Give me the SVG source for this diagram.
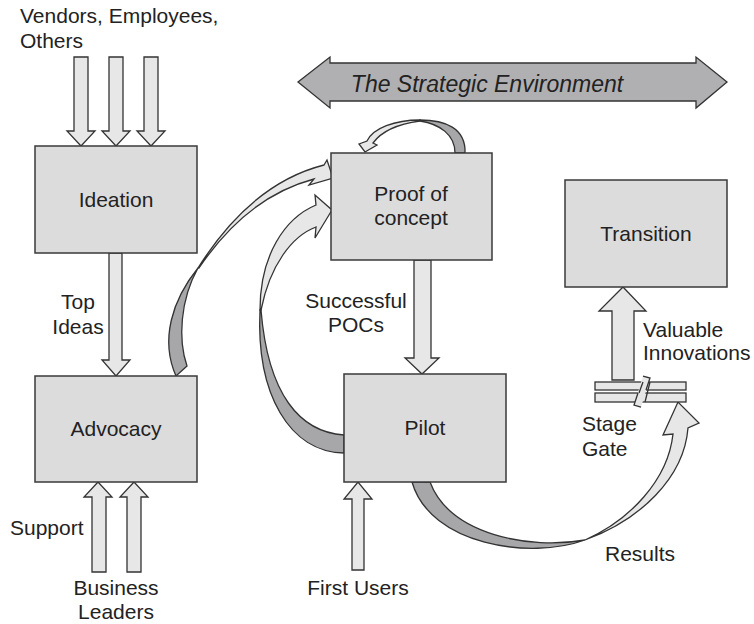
<svg xmlns="http://www.w3.org/2000/svg" width="754" height="624" viewBox="0 0 754 624">
<style>
.box{fill:#dcdcdd;stroke:#3a3a3a;stroke-width:1.5}
.arr{fill:#e7e7e8;stroke:#333;stroke-width:1.3;stroke-linejoin:miter}
.dark{fill:#a7a7a9;stroke:#333;stroke-width:1.3}
.env{fill:#b0b0b2;stroke:#333;stroke-width:1.3}
text{font-family:"Liberation Sans",Arial,sans-serif;font-size:21px;fill:#222}
.c{text-anchor:middle}
</style>
<rect width="754" height="624" fill="#fff"/>
<g id="environment">
<polygon class="env" points="298,82 330,57 330,63 696,63 696,57 727,82 696,108 696,101 330,101 330,108"/>
<text x="487" y="92" class="c" style="font-style:italic;font-size:23px">The Strategic Environment</text>
</g>
<g id="connectors">
<polygon class="arr" points="74,57 88,57 88,131 95,131 81,146 67,131 74,131"/>
<polygon class="arr" points="109,57 123,57 123,131 130,131 116,146 102,131 109,131"/>
<polygon class="arr" points="144,57 158,57 158,131 165,131 151,146 137,131 144,131"/>
<polygon class="arr" points="109,253 122,253 122,360 130,360 116,376 102,360 109,360"/>
<polygon class="arr" points="92,572 106,572 106,497 112,497 98,482 84,497 92,497"/>
<polygon class="arr" points="127,572 141,572 141,497 148,497 134,482 120,497 127,497"/>
<polygon class="arr" points="352,570 364,570 364,499 372,499 358,482 344,499 352,499"/>
<polygon class="arr" points="414,260 431,260 431,358 439,358 422,374 405,358 414,358"/>
<polygon class="arr" points="612,380 634,380 634,311 646,311 623,287 599,311 612,311"/>
<path class="dark" d="M198,268 C172,300 160,340 176,376 L187,366 C178,340 180,300 198,268 Z"/>
<path class="arr" d="M198,268 C225,225 265,180 324,165 L327,160 L333,178 L309,185 L314,179 C265,192 228,225 199,268 Z"/>
<path class="dark" d="M260,310 C256,395 290,452 344,453 L344,435 C300,432 268,395 261,310 Z"/>
<path class="arr" d="M260,310 C260,255 285,218 316,205 L315,195 L332,210 L315,238 L316,227 C292,236 270,265 261,310 Z"/>
<path class="dark" d="M420,120 C445,120 466,128 465,153 L455,153 C455,135 440,124 420,121 Z"/>
<path class="arr" d="M420,120 C395,120 373,128 367,141 L359,144 L365,152 L377,145 L373,143 C381,132 398,124 420,121 Z"/>
<path class="dark" d="M585,540 C530,560 430,545 412,482 L430,482 C450,535 530,550 585,540 Z"/>
<path class="arr" d="M585,540 C630,520 668,480 673,434 L663,435 L678,402 L699,423 L688,428 C684,478 640,520 585,540 Z"/>
</g>
<g id="stage-gate">
<rect x="595" y="382" width="91" height="8" class="arr"/>
<rect x="595" y="393" width="91" height="9" class="arr"/>
<polygon points="643,376 650,378 641,407 634,405" fill="#e7e7e8"/>
<polyline points="643,376 650,378 646,390" fill="none" stroke="#333" stroke-width="1.3"/>
<polyline points="638,393 634,405 641,407" fill="none" stroke="#333" stroke-width="1.3"/>
<line x1="643" y1="382" x2="639" y2="393" stroke="#333" stroke-width="1.3"/>
<line x1="650" y1="382" x2="645" y2="402" stroke="#333" stroke-width="1.3"/>
</g>
<g id="ideation">
<rect class="box" x="35" y="146" width="162" height="107"/>
<text x="116" y="207" class="c">Ideation</text>
</g>
<g id="advocacy">
<rect class="box" x="35" y="376" width="162" height="106"/>
<text x="116" y="436" class="c">Advocacy</text>
</g>
<g id="poc">
<rect class="box" x="331" y="153" width="161" height="107"/>
<text x="411" y="201" class="c">Proof of</text>
<text x="411" y="225" class="c">concept</text>
</g>
<g id="pilot">
<rect class="box" x="344" y="374" width="162" height="108"/>
<text x="425" y="435" class="c">Pilot</text>
</g>
<g id="transition">
<rect class="box" x="565" y="180" width="162" height="107"/>
<text x="646" y="241" class="c">Transition</text>
</g>
<g id="labels">
<text x="20" y="23">Vendors, Employees,</text>
<text x="20" y="48">Others</text>
<text x="78" y="309" class="c">Top</text>
<text x="78" y="334" class="c">Ideas</text>
<text x="10" y="535">Support</text>
<text x="116" y="595" class="c">Business</text>
<text x="116" y="619" class="c">Leaders</text>
<text x="356" y="308" class="c">Successful</text>
<text x="356" y="332" class="c">POCs</text>
<text x="358" y="595" class="c">First Users</text>
<text x="643" y="337">Valuable</text>
<text x="643" y="360">Innovations</text>
<text x="582" y="431">Stage</text>
<text x="582" y="456">Gate</text>
<text x="605" y="561">Results</text>
</g>
</svg>
